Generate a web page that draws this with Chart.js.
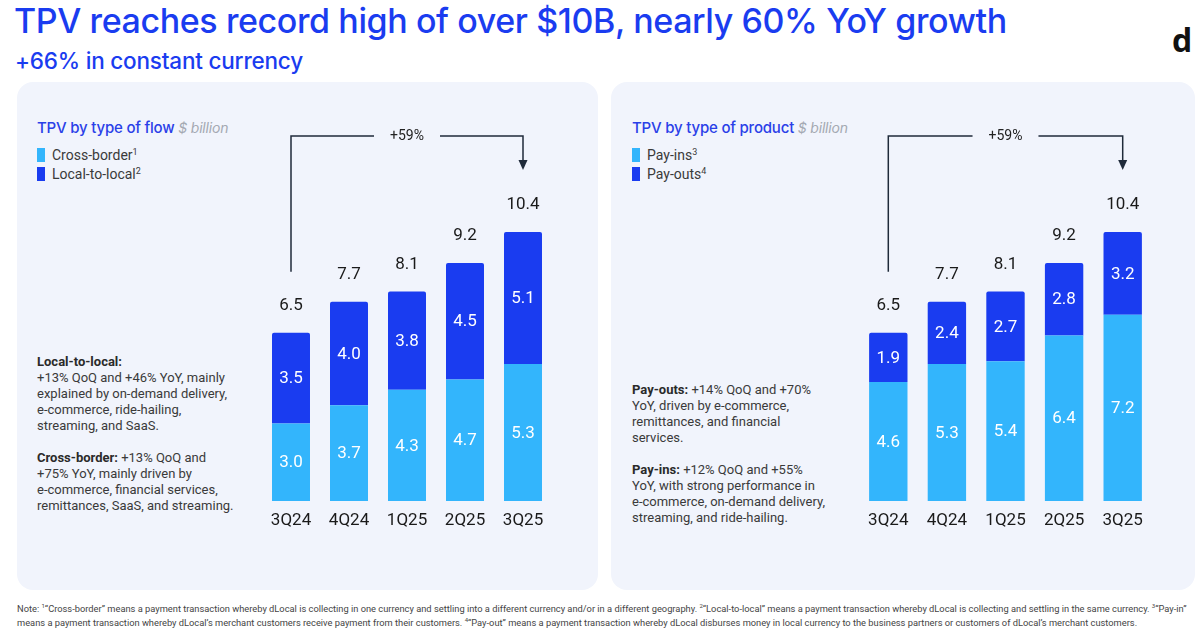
<!DOCTYPE html>
<html>
<head>
<meta charset="utf-8">
<script src="https://cdn.jsdelivr.net/npm/chart.js@4.4.0/dist/chart.umd.min.js"></script>
<style>
  body { margin: 0; width: 1200px; height: 636px; background: #fff; position: relative; overflow: hidden; font-family: Roboto, sans-serif; }
  .abs { position: absolute; white-space: nowrap; }
  .title { left: 14px; top: 0px; font-family: Inter, sans-serif; font-weight: 500; font-size: 34px; color: #1a3cf0; letter-spacing: -0.4px; }
  .subtitle { left: 15px; top: 47px; font-family: Inter, sans-serif; font-weight: 500; font-size: 22.5px; color: #1a3cf0; letter-spacing: -0.2px; }
  .logo { left: 1172px; top: 18px; font-family: "Open Sans", sans-serif; font-weight: 700; font-size: 32px; color: #111; }
  .panel { position: absolute; top: 82px; height: 508px; background: #f1f4fc; border-radius: 16px; }
  .head { font-family: Inter, sans-serif; font-weight: 500; font-size: 15px; color: #2a40e8; letter-spacing: -0.2px; }
  .head i { font-family: Inter, sans-serif; font-weight: 400; color: #a4a9b2; font-size: 14px; }
  .leg { font-size: 14px; color: #3a3a3a; line-height: 19px; }
  .leg span.sw { display: inline-block; width: 8px; height: 14px; vertical-align: -2px; margin-right: 7px; }
  .leg sup { font-size: 9px; vertical-align: 5px; line-height: 0; }
  .note { font-size: 13px; color: #3a3a3a; line-height: 16px; }
  .note b { color: #2a2a2a; }
  .foot { left: 17px; top: 602px; font-size: 9.3px; color: #444; line-height: 14px; }
  .foot sup { font-size: 6px; vertical-align: 4px; line-height: 0; }
  .chartbox { position: absolute; }
</style>
</head>
<body>
<div class="abs title">TPV reaches record high of over $10B, nearly 60% YoY growth</div>
<div class="abs subtitle">+66% in constant currency</div>
<div class="abs logo">d</div>

<div class="panel" style="left:17px; width:581px;"></div>
<div class="panel" style="left:611px; width:584px;"></div>

<div class="abs head" style="left:37px; top:118px;">TPV by type of flow <i>$ billion</i></div>
<div class="abs leg" style="left:37px; top:146px;">
  <span class="sw" style="background:#33b5fc"></span>Cross-border<sup>1</sup><br>
  <span class="sw" style="background:#1a3cf0"></span>Local-to-local<sup>2</sup>
</div>
<div class="abs note" style="left:37px; top:354px;">
  <b>Local-to-local:</b><br>
  +13% QoQ and +46% YoY, mainly<br>
  explained by on-demand delivery,<br>
  e-commerce, ride-hailing,<br>
  streaming, and SaaS.<br>
  <br>
  <b>Cross-border:</b> +13% QoQ and<br>
  +75% YoY, mainly driven by<br>
  e-commerce, financial services,<br>
  remittances, SaaS, and streaming.
</div>

<div class="abs head" style="left:632px; top:118px;">TPV by type of product <i>$ billion</i></div>
<div class="abs leg" style="left:632px; top:146px;">
  <span class="sw" style="background:#33b5fc"></span>Pay-ins<sup>3</sup><br>
  <span class="sw" style="background:#1a3cf0"></span>Pay-outs<sup>4</sup>
</div>
<div class="abs note" style="left:632px; top:382px;">
  <b>Pay-outs:</b> +14% QoQ and +70%<br>
  YoY, driven by e-commerce,<br>
  remittances, and financial<br>
  services.<br>
  <br>
  <b>Pay-ins:</b> +12% QoQ and +55%<br>
  YoY, with strong performance in<br>
  e-commerce, on-demand delivery,<br>
  streaming, and ride-hailing.
</div>

<div class="abs foot">Note: <sup>1</sup>“Cross-border” means a payment transaction whereby dLocal is collecting in one currency and settling into a different currency and/or in a different geography. <sup>2</sup>“Local-to-local” means a payment transaction whereby dLocal is collecting and settling in the same currency. <sup>3</sup>“Pay-in”<br>means a payment transaction whereby dLocal’s merchant customers receive payment from their customers. <sup>4</sup>“Pay-out” means a payment transaction whereby dLocal disburses money in local currency to the business partners or customers of dLocal’s merchant customers.</div>

<div class="chartbox" style="left:262px; top:100px; width:290px; height:440px;"><canvas id="flowChart"></canvas></div>
<div class="chartbox" style="left:859px; top:100px; width:293px; height:440px;"><canvas id="productChart"></canvas></div>

<script>
var quarters = ['3Q24', '4Q24', '1Q25', '2Q25', '3Q25'];
var crossBorder = [3.0, 3.7, 4.3, 4.7, 5.3];
var localToLocal = [3.5, 4.0, 3.8, 4.5, 5.1];
var payIns = [4.6, 5.3, 5.4, 6.4, 7.2];
var payOuts = [1.9, 2.4, 2.7, 2.8, 3.2];
var totals = [6.5, 7.7, 8.1, 9.2, 10.4];
var growthLabel = '+59%';

var lightBlue = '#33b5fc';
var darkBlue = '#1a3cf0';

// quarter names, labels inside/above the bars and the growth bracket
var barLabels = {
  id: 'barLabels',
  afterDatasetsDraw: function(chart) {
    var ctx = chart.ctx;
    var xs = chart.scales.x;
    var ys = chart.scales.y;
    var last = totals.length - 1;
    ctx.save();
    ctx.textAlign = 'center';
    ctx.textBaseline = 'middle';
    ctx.font = '17px Roboto';

    chart.data.datasets.forEach(function(ds, i) {
      var meta = chart.getDatasetMeta(i);
      meta.data.forEach(function(bar, j) {
        ctx.fillStyle = '#ffffff';
        ctx.fillText(ds.data[j].toFixed(1), bar.x, (bar.y + bar.base) / 2 + 1);
      });
    });

    totals.forEach(function(t, j) {
      ctx.fillStyle = '#1a1a1a';
      ctx.fillText(t.toFixed(1), xs.getPixelForValue(j), ys.getPixelForValue(t) - 27);
    });

    quarters.forEach(function(q, j) {
      ctx.fillStyle = '#1a1a1a';
      ctx.fillText(q, xs.getPixelForValue(j), chart.chartArea.bottom + 20);
    });

    var x0 = xs.getPixelForValue(0);
    var x1 = xs.getPixelForValue(last);
    var xm = (x0 + x1) / 2;
    var yTop = chart.chartArea.top + 36;
    var yStart = ys.getPixelForValue(totals[0]) - 61;
    var yEnd = ys.getPixelForValue(totals[last]) - 62;

    ctx.font = '14px Roboto';
    var half = ctx.measureText(growthLabel).width / 2 + 16;
    ctx.fillStyle = '#222';
    ctx.fillText(growthLabel, xm, yTop);

    ctx.strokeStyle = '#1f2a3a';
    ctx.lineWidth = 1.5;
    ctx.beginPath();
    ctx.moveTo(x0, yStart);
    ctx.lineTo(x0, yTop);
    ctx.lineTo(xm - half, yTop);
    ctx.moveTo(xm + half, yTop);
    ctx.lineTo(x1, yTop);
    ctx.lineTo(x1, yEnd - 8);
    ctx.stroke();

    ctx.fillStyle = '#1f2a3a';
    ctx.beginPath();
    ctx.moveTo(x1 - 4.5, yEnd - 10);
    ctx.lineTo(x1 + 4.5, yEnd - 10);
    ctx.lineTo(x1, yEnd);
    ctx.closePath();
    ctx.fill();
    ctx.restore();
  }
};

function chartSetup(bottom, top) {
  var data = {
    type: 'bar',
    data: {
      labels: quarters,
      datasets: [{
        data: bottom,
        backgroundColor: lightBlue,
        borderRadius: 0,
        categoryPercentage: 1,
        barPercentage: 0.655
      }, {
        data: top,
        backgroundColor: darkBlue,
        borderRadius: { topLeft: 2, topRight: 2, bottomLeft: 0, bottomRight: 0 },
        borderSkipped: false,
        categoryPercentage: 1,
        barPercentage: 0.655
      }]
    },
    options: {
      responsive: true,
      maintainAspectRatio: false,
      animation: false,
      layout: { padding: { top: 0, bottom: 39, left: 0, right: 0 } },
      plugins: {
        legend: { display: false },
        tooltip: { enabled: false }
      },
      scales: {
        x: {
          stacked: true,
          display: false
        },
        y: {
          stacked: true,
          display: false,
          min: 0,
          max: 15.5
        }
      }
    },
    plugins: [barLabels]
  };
  return data;
}

new Chart(document.getElementById('flowChart'), chartSetup(crossBorder, localToLocal));
new Chart(document.getElementById('productChart'), chartSetup(payIns, payOuts));
</script>
</body>
</html>
